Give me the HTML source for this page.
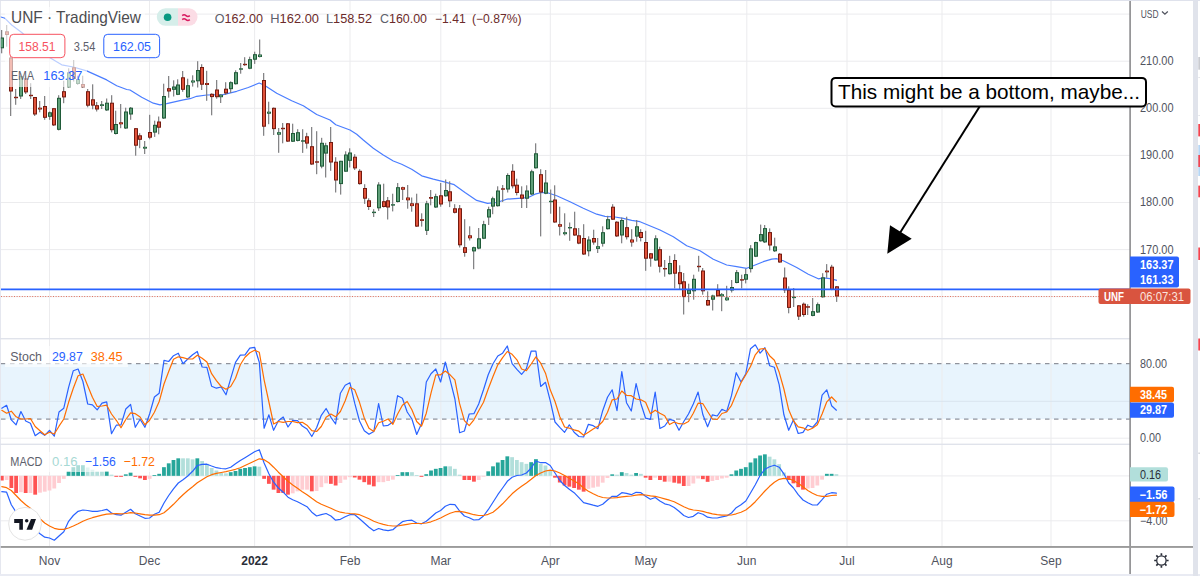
<!DOCTYPE html><html><head><meta charset="utf-8"><style>html,body{margin:0;padding:0;background:#fff;width:1200px;height:576px;overflow:hidden}</style></head><body><svg width="1200" height="576" viewBox="0 0 1200 576" style="position:absolute;left:0;top:0;font-family:'Liberation Sans',sans-serif">
<rect width="1200" height="576" fill="#fff"/>
<rect x="1" y="363.7" width="1129" height="55.4" fill="#e8f4fd"/>
<rect x="49.0" y="1" width="1" height="545" fill="#ececee"/>
<rect x="149.0" y="1" width="1" height="545" fill="#ececee"/>
<rect x="254.1" y="1" width="1" height="545" fill="#ececee"/>
<rect x="349.5" y="1" width="1" height="545" fill="#ececee"/>
<rect x="440.3" y="1" width="1" height="545" fill="#ececee"/>
<rect x="549.8" y="1" width="1" height="545" fill="#ececee"/>
<rect x="645.3" y="1" width="1" height="545" fill="#ececee"/>
<rect x="746.3" y="1" width="1" height="545" fill="#ececee"/>
<rect x="846.5" y="1" width="1" height="545" fill="#ececee"/>
<rect x="941.5" y="1" width="1" height="545" fill="#ececee"/>
<rect x="1050.5" y="1" width="1" height="545" fill="#ececee"/>
<rect x="1" y="13.6" width="1129" height="1" fill="#ececee"/>
<rect x="1" y="60.7" width="1129" height="1" fill="#ececee"/>
<rect x="1" y="107.8" width="1129" height="1" fill="#ececee"/>
<rect x="1" y="154.9" width="1129" height="1" fill="#ececee"/>
<rect x="1" y="202.0" width="1129" height="1" fill="#ececee"/>
<rect x="1" y="249.1" width="1129" height="1" fill="#ececee"/>
<rect x="1" y="296.2" width="1129" height="1" fill="#ececee"/>
<rect x="1" y="400.8" width="1129" height="1" fill="#d9e4ee"/>
<rect x="1" y="437.7" width="1129" height="1" fill="#ececee"/>
<rect x="1" y="475.4" width="1129" height="1" fill="#ececee"/>
<rect x="1" y="520.3" width="1129" height="1" fill="#ececee"/>
<rect x="0" y="338" width="1193" height="1.4" fill="#e0e3eb"/>
<rect x="0" y="443.6" width="1193" height="1.4" fill="#e0e3eb"/>
<line x1="1" x2="1130" y1="363.7" y2="363.7" stroke="#787b86" stroke-width="1" stroke-dasharray="4.5,4.5"/>
<line x1="1" x2="1130" y1="419.1" y2="419.1" stroke="#787b86" stroke-width="1" stroke-dasharray="4.5,4.5"/>
<rect x="-0.09" y="475.83" width="3.8" height="4.67" fill="#ff5252"/>
<rect x="4.68" y="475.83" width="3.8" height="4.17" fill="#ffcdd2"/>
<rect x="9.45" y="475.83" width="3.8" height="12.17" fill="#ff5252"/>
<rect x="14.22" y="475.83" width="3.8" height="17.17" fill="#ff5252"/>
<rect x="18.99" y="475.83" width="3.8" height="16.33" fill="#ffcdd2"/>
<rect x="23.76" y="475.83" width="3.8" height="17.17" fill="#ff5252"/>
<rect x="28.52" y="475.83" width="3.8" height="17.17" fill="#ffcdd2"/>
<rect x="33.29" y="475.83" width="3.8" height="18.83" fill="#ff5252"/>
<rect x="38.06" y="475.83" width="3.8" height="16.83" fill="#ffcdd2"/>
<rect x="42.83" y="475.83" width="3.8" height="15.83" fill="#ffcdd2"/>
<rect x="47.60" y="475.83" width="3.8" height="14.67" fill="#ffcdd2"/>
<rect x="52.37" y="475.83" width="3.8" height="12.67" fill="#ffcdd2"/>
<rect x="57.14" y="475.83" width="3.8" height="7.17" fill="#ffcdd2"/>
<rect x="61.91" y="475.83" width="3.8" height="3.00" fill="#ffcdd2"/>
<rect x="66.68" y="471.33" width="3.8" height="4.50" fill="#26a69a"/>
<rect x="71.44" y="467.17" width="3.8" height="8.67" fill="#26a69a"/>
<rect x="76.21" y="465.17" width="3.8" height="10.67" fill="#26a69a"/>
<rect x="80.98" y="465.17" width="3.8" height="10.67" fill="#26a69a"/>
<rect x="85.75" y="467.50" width="3.8" height="8.33" fill="#b2dfdb"/>
<rect x="90.52" y="469.67" width="3.8" height="6.17" fill="#b2dfdb"/>
<rect x="95.29" y="471.33" width="3.8" height="4.50" fill="#b2dfdb"/>
<rect x="100.06" y="471.33" width="3.8" height="4.50" fill="#b2dfdb"/>
<rect x="104.83" y="471.00" width="3.8" height="4.83" fill="#26a69a"/>
<rect x="109.60" y="474.67" width="3.8" height="1.17" fill="#b2dfdb"/>
<rect x="114.37" y="475.83" width="3.8" height="1.00" fill="#ff5252"/>
<rect x="119.13" y="475.83" width="3.8" height="1.00" fill="#ff5252"/>
<rect x="123.90" y="474.33" width="3.8" height="1.50" fill="#26a69a"/>
<rect x="128.67" y="472.67" width="3.8" height="3.17" fill="#26a69a"/>
<rect x="133.44" y="475.83" width="3.8" height="1.00" fill="#ff5252"/>
<rect x="138.21" y="475.83" width="3.8" height="2.50" fill="#ff5252"/>
<rect x="142.98" y="475.83" width="3.8" height="4.17" fill="#ff5252"/>
<rect x="147.75" y="475.83" width="3.8" height="3.00" fill="#ffcdd2"/>
<rect x="152.52" y="475.00" width="3.8" height="0.83" fill="#26a69a"/>
<rect x="157.29" y="473.83" width="3.8" height="2.00" fill="#26a69a"/>
<rect x="162.06" y="467.17" width="3.8" height="8.67" fill="#26a69a"/>
<rect x="166.83" y="463.33" width="3.8" height="12.50" fill="#26a69a"/>
<rect x="171.59" y="460.00" width="3.8" height="15.83" fill="#26a69a"/>
<rect x="176.36" y="458.33" width="3.8" height="17.50" fill="#26a69a"/>
<rect x="181.13" y="458.33" width="3.8" height="17.50" fill="#b2dfdb"/>
<rect x="185.90" y="458.33" width="3.8" height="17.50" fill="#b2dfdb"/>
<rect x="190.67" y="459.33" width="3.8" height="16.50" fill="#b2dfdb"/>
<rect x="195.44" y="458.33" width="3.8" height="17.50" fill="#26a69a"/>
<rect x="200.21" y="461.00" width="3.8" height="14.83" fill="#b2dfdb"/>
<rect x="204.98" y="463.83" width="3.8" height="12.00" fill="#b2dfdb"/>
<rect x="209.75" y="468.00" width="3.8" height="7.83" fill="#b2dfdb"/>
<rect x="214.51" y="470.50" width="3.8" height="5.33" fill="#b2dfdb"/>
<rect x="219.28" y="473.00" width="3.8" height="2.83" fill="#b2dfdb"/>
<rect x="224.05" y="473.33" width="3.8" height="2.50" fill="#b2dfdb"/>
<rect x="228.82" y="472.17" width="3.8" height="3.67" fill="#26a69a"/>
<rect x="233.59" y="471.00" width="3.8" height="4.83" fill="#26a69a"/>
<rect x="238.36" y="468.83" width="3.8" height="7.00" fill="#26a69a"/>
<rect x="243.13" y="468.00" width="3.8" height="7.83" fill="#26a69a"/>
<rect x="247.90" y="467.17" width="3.8" height="8.67" fill="#26a69a"/>
<rect x="252.67" y="466.33" width="3.8" height="9.50" fill="#26a69a"/>
<rect x="257.44" y="466.67" width="3.8" height="9.17" fill="#b2dfdb"/>
<rect x="262.21" y="475.83" width="3.8" height="3.00" fill="#ff5252"/>
<rect x="266.97" y="475.83" width="3.8" height="8.00" fill="#ff5252"/>
<rect x="271.74" y="475.83" width="3.8" height="13.83" fill="#ff5252"/>
<rect x="276.51" y="475.83" width="3.8" height="17.17" fill="#ff5252"/>
<rect x="281.28" y="475.83" width="3.8" height="17.17" fill="#ff5252"/>
<rect x="286.05" y="475.83" width="3.8" height="18.83" fill="#ff5252"/>
<rect x="290.82" y="475.83" width="3.8" height="17.50" fill="#ffcdd2"/>
<rect x="295.59" y="475.83" width="3.8" height="15.50" fill="#ffcdd2"/>
<rect x="300.36" y="475.83" width="3.8" height="13.83" fill="#ffcdd2"/>
<rect x="305.13" y="475.83" width="3.8" height="13.83" fill="#ffcdd2"/>
<rect x="309.90" y="475.83" width="3.8" height="15.50" fill="#ff5252"/>
<rect x="314.66" y="475.83" width="3.8" height="15.17" fill="#ffcdd2"/>
<rect x="319.43" y="475.83" width="3.8" height="11.33" fill="#ffcdd2"/>
<rect x="324.20" y="475.83" width="3.8" height="7.50" fill="#ffcdd2"/>
<rect x="328.97" y="475.83" width="3.8" height="8.00" fill="#ff5252"/>
<rect x="333.74" y="475.83" width="3.8" height="9.67" fill="#ff5252"/>
<rect x="338.51" y="475.83" width="3.8" height="7.17" fill="#ffcdd2"/>
<rect x="343.28" y="475.83" width="3.8" height="3.83" fill="#ffcdd2"/>
<rect x="348.05" y="475.83" width="3.8" height="1.33" fill="#ffcdd2"/>
<rect x="352.82" y="475.83" width="3.8" height="1.67" fill="#ff5252"/>
<rect x="357.59" y="475.83" width="3.8" height="3.83" fill="#ff5252"/>
<rect x="362.35" y="475.83" width="3.8" height="6.33" fill="#ff5252"/>
<rect x="367.12" y="475.83" width="3.8" height="8.83" fill="#ff5252"/>
<rect x="371.89" y="475.83" width="3.8" height="10.50" fill="#ff5252"/>
<rect x="376.66" y="475.83" width="3.8" height="6.33" fill="#ffcdd2"/>
<rect x="381.43" y="475.83" width="3.8" height="6.33" fill="#ffcdd2"/>
<rect x="386.20" y="475.83" width="3.8" height="5.17" fill="#ffcdd2"/>
<rect x="390.97" y="475.83" width="3.8" height="3.83" fill="#ffcdd2"/>
<rect x="395.74" y="475.00" width="3.8" height="0.83" fill="#26a69a"/>
<rect x="400.51" y="472.17" width="3.8" height="3.67" fill="#26a69a"/>
<rect x="405.28" y="472.17" width="3.8" height="3.67" fill="#26a69a"/>
<rect x="410.04" y="472.17" width="3.8" height="3.67" fill="#b2dfdb"/>
<rect x="414.81" y="475.03" width="3.8" height="0.80" fill="#b2dfdb"/>
<rect x="419.58" y="475.83" width="3.8" height="1.00" fill="#ff5252"/>
<rect x="424.35" y="474.17" width="3.8" height="1.67" fill="#26a69a"/>
<rect x="429.12" y="470.50" width="3.8" height="5.33" fill="#26a69a"/>
<rect x="433.89" y="468.83" width="3.8" height="7.00" fill="#26a69a"/>
<rect x="438.66" y="468.00" width="3.8" height="7.83" fill="#26a69a"/>
<rect x="443.43" y="466.33" width="3.8" height="9.50" fill="#26a69a"/>
<rect x="448.20" y="466.33" width="3.8" height="9.50" fill="#b2dfdb"/>
<rect x="452.97" y="468.83" width="3.8" height="7.00" fill="#b2dfdb"/>
<rect x="457.73" y="474.67" width="3.8" height="1.17" fill="#b2dfdb"/>
<rect x="462.50" y="475.83" width="3.8" height="4.17" fill="#ff5252"/>
<rect x="467.27" y="475.83" width="3.8" height="4.17" fill="#ff5252"/>
<rect x="472.04" y="475.83" width="3.8" height="5.83" fill="#ff5252"/>
<rect x="476.81" y="475.83" width="3.8" height="4.17" fill="#ffcdd2"/>
<rect x="481.58" y="475.83" width="3.8" height="0.83" fill="#ffcdd2"/>
<rect x="486.35" y="471.33" width="3.8" height="4.50" fill="#26a69a"/>
<rect x="491.12" y="466.33" width="3.8" height="9.50" fill="#26a69a"/>
<rect x="495.89" y="462.50" width="3.8" height="13.33" fill="#26a69a"/>
<rect x="500.66" y="460.00" width="3.8" height="15.83" fill="#26a69a"/>
<rect x="505.42" y="456.33" width="3.8" height="19.50" fill="#26a69a"/>
<rect x="510.19" y="457.17" width="3.8" height="18.67" fill="#b2dfdb"/>
<rect x="514.96" y="460.00" width="3.8" height="15.83" fill="#b2dfdb"/>
<rect x="519.73" y="462.17" width="3.8" height="13.67" fill="#b2dfdb"/>
<rect x="524.50" y="463.83" width="3.8" height="12.00" fill="#b2dfdb"/>
<rect x="529.27" y="462.17" width="3.8" height="13.67" fill="#26a69a"/>
<rect x="534.04" y="459.17" width="3.8" height="16.67" fill="#26a69a"/>
<rect x="538.81" y="463.83" width="3.8" height="12.00" fill="#b2dfdb"/>
<rect x="543.58" y="465.50" width="3.8" height="10.33" fill="#b2dfdb"/>
<rect x="548.35" y="470.50" width="3.8" height="5.33" fill="#b2dfdb"/>
<rect x="553.11" y="475.83" width="3.8" height="1.83" fill="#ff5252"/>
<rect x="557.88" y="475.83" width="3.8" height="6.67" fill="#ff5252"/>
<rect x="562.65" y="475.83" width="3.8" height="9.67" fill="#ff5252"/>
<rect x="567.42" y="475.83" width="3.8" height="10.83" fill="#ff5252"/>
<rect x="572.19" y="475.83" width="3.8" height="12.17" fill="#ff5252"/>
<rect x="576.96" y="475.83" width="3.8" height="13.83" fill="#ff5252"/>
<rect x="581.73" y="475.83" width="3.8" height="15.83" fill="#ff5252"/>
<rect x="586.50" y="475.83" width="3.8" height="13.00" fill="#ffcdd2"/>
<rect x="591.27" y="475.83" width="3.8" height="11.83" fill="#ffcdd2"/>
<rect x="596.04" y="475.83" width="3.8" height="10.83" fill="#ffcdd2"/>
<rect x="600.80" y="475.83" width="3.8" height="6.83" fill="#ffcdd2"/>
<rect x="605.57" y="475.83" width="3.8" height="2.17" fill="#ffcdd2"/>
<rect x="610.34" y="474.33" width="3.8" height="1.50" fill="#26a69a"/>
<rect x="615.11" y="474.67" width="3.8" height="1.17" fill="#b2dfdb"/>
<rect x="619.88" y="472.17" width="3.8" height="3.67" fill="#26a69a"/>
<rect x="624.65" y="473.00" width="3.8" height="2.83" fill="#b2dfdb"/>
<rect x="629.42" y="474.67" width="3.8" height="1.17" fill="#b2dfdb"/>
<rect x="634.19" y="473.00" width="3.8" height="2.83" fill="#26a69a"/>
<rect x="638.96" y="473.83" width="3.8" height="2.00" fill="#b2dfdb"/>
<rect x="643.73" y="475.83" width="3.8" height="1.83" fill="#ff5252"/>
<rect x="648.49" y="475.83" width="3.8" height="4.17" fill="#ff5252"/>
<rect x="653.26" y="475.83" width="3.8" height="1.83" fill="#ffcdd2"/>
<rect x="658.03" y="475.83" width="3.8" height="4.17" fill="#ff5252"/>
<rect x="662.80" y="475.83" width="3.8" height="5.83" fill="#ff5252"/>
<rect x="667.57" y="475.83" width="3.8" height="5.83" fill="#ffcdd2"/>
<rect x="672.34" y="475.83" width="3.8" height="6.83" fill="#ff5252"/>
<rect x="677.11" y="475.83" width="3.8" height="7.67" fill="#ff5252"/>
<rect x="681.88" y="475.83" width="3.8" height="10.17" fill="#ff5252"/>
<rect x="686.65" y="475.83" width="3.8" height="10.17" fill="#ffcdd2"/>
<rect x="691.42" y="475.83" width="3.8" height="7.67" fill="#ffcdd2"/>
<rect x="696.18" y="475.83" width="3.8" height="2.67" fill="#ffcdd2"/>
<rect x="700.95" y="475.83" width="3.8" height="3.33" fill="#ff5252"/>
<rect x="705.72" y="475.83" width="3.8" height="6.00" fill="#ff5252"/>
<rect x="710.49" y="475.83" width="3.8" height="5.17" fill="#ffcdd2"/>
<rect x="715.26" y="475.83" width="3.8" height="4.17" fill="#ffcdd2"/>
<rect x="720.03" y="475.83" width="3.8" height="2.67" fill="#ffcdd2"/>
<rect x="724.80" y="475.83" width="3.8" height="1.83" fill="#ffcdd2"/>
<rect x="729.57" y="474.33" width="3.8" height="1.50" fill="#26a69a"/>
<rect x="734.34" y="470.50" width="3.8" height="5.33" fill="#26a69a"/>
<rect x="739.11" y="468.83" width="3.8" height="7.00" fill="#26a69a"/>
<rect x="743.87" y="467.17" width="3.8" height="8.67" fill="#26a69a"/>
<rect x="748.64" y="462.50" width="3.8" height="13.33" fill="#26a69a"/>
<rect x="753.41" y="458.33" width="3.8" height="17.50" fill="#26a69a"/>
<rect x="758.18" y="455.50" width="3.8" height="20.33" fill="#26a69a"/>
<rect x="762.95" y="454.33" width="3.8" height="21.50" fill="#26a69a"/>
<rect x="767.72" y="456.67" width="3.8" height="19.17" fill="#b2dfdb"/>
<rect x="772.49" y="459.33" width="3.8" height="16.50" fill="#b2dfdb"/>
<rect x="777.26" y="464.17" width="3.8" height="11.67" fill="#b2dfdb"/>
<rect x="782.03" y="472.50" width="3.8" height="3.33" fill="#b2dfdb"/>
<rect x="786.80" y="475.83" width="3.8" height="4.17" fill="#ff5252"/>
<rect x="791.56" y="475.83" width="3.8" height="7.50" fill="#ff5252"/>
<rect x="796.33" y="475.83" width="3.8" height="11.33" fill="#ff5252"/>
<rect x="801.10" y="475.83" width="3.8" height="13.83" fill="#ff5252"/>
<rect x="805.87" y="475.83" width="3.8" height="12.67" fill="#ffcdd2"/>
<rect x="810.64" y="475.83" width="3.8" height="12.17" fill="#ffcdd2"/>
<rect x="815.41" y="475.83" width="3.8" height="9.67" fill="#ffcdd2"/>
<rect x="820.18" y="475.83" width="3.8" height="3.83" fill="#ffcdd2"/>
<rect x="824.95" y="473.83" width="3.8" height="2.00" fill="#26a69a"/>
<rect x="829.72" y="473.83" width="3.8" height="2.00" fill="#26a69a"/>
<rect x="834.49" y="474.17" width="3.8" height="1.67" fill="#b2dfdb"/>
<polyline points="1.8,491.7 6.6,492.2 11.3,504.7 16.1,512.2 20.9,516.7 25.7,521.0 30.4,525.5 35.2,530.0 40.0,533.8 44.7,537.2 49.5,538.0 54.3,540.2 59.0,536.0 63.8,531.8 68.6,521.3 73.3,515.5 78.1,511.3 82.9,510.0 87.7,510.5 92.4,511.3 97.2,511.3 102.0,510.5 106.7,509.3 111.5,513.0 116.3,514.7 121.0,515.2 125.8,512.2 130.6,509.3 135.3,513.8 140.1,516.0 144.9,518.3 149.6,518.0 154.4,514.3 159.2,512.2 164.0,503.0 168.7,495.5 173.5,488.8 178.3,483.0 183.0,479.7 187.8,476.0 192.6,471.3 197.3,465.5 202.1,464.3 206.9,464.2 211.6,466.0 216.4,467.7 221.2,468.5 226.0,468.8 230.7,467.2 235.5,463.8 240.3,460.5 245.0,457.7 249.8,454.7 254.6,451.7 259.3,449.7 264.1,463.0 268.9,473.8 273.6,482.2 278.4,488.0 283.2,492.2 288.0,497.2 292.7,499.7 297.5,501.7 302.3,504.3 307.0,506.7 311.8,512.2 316.6,516.0 321.3,514.7 326.1,513.5 330.9,516.0 335.6,520.2 340.4,519.3 345.2,516.8 349.9,514.7 354.7,514.7 359.5,518.8 364.3,523.0 369.0,527.2 373.8,530.8 378.6,528.5 383.3,529.8 388.1,530.7 392.9,529.7 397.6,525.5 402.4,521.7 407.2,520.5 411.9,520.2 416.7,523.0 421.5,523.8 426.3,521.3 431.0,517.2 435.8,513.0 440.6,510.5 445.3,506.3 450.1,504.3 454.9,504.7 459.6,511.0 464.4,516.0 469.2,517.7 473.9,520.0 478.7,519.7 483.5,516.0 488.2,509.7 493.0,502.2 497.8,494.7 502.6,488.0 507.3,481.3 512.1,477.2 516.9,475.5 521.6,475.0 526.4,473.0 531.2,468.0 535.9,461.0 540.7,462.7 545.5,462.5 550.2,465.5 555.0,473.0 559.8,480.5 564.6,485.5 569.3,489.3 574.1,492.7 578.9,497.7 583.6,502.7 588.4,503.8 593.2,505.2 597.9,506.3 602.7,504.3 607.5,500.0 612.2,496.3 617.0,496.3 621.8,492.7 626.5,493.3 631.3,494.7 636.1,492.3 640.9,492.7 645.6,496.3 650.4,499.3 655.2,497.5 659.9,501.0 664.7,503.8 669.5,505.0 674.2,507.5 679.0,511.3 683.8,515.5 688.5,517.5 693.3,516.3 698.1,512.7 702.9,514.2 707.6,517.2 712.4,518.0 717.2,518.0 721.9,516.8 726.7,516.0 731.5,513.0 736.2,507.7 741.0,504.7 745.8,501.0 750.5,493.0 755.3,484.7 760.1,475.5 764.9,469.2 769.6,466.8 774.4,465.2 779.2,467.2 783.9,473.8 788.7,483.0 793.5,488.0 798.2,494.7 803.0,500.0 807.8,502.7 812.5,505.0 817.3,505.0 822.1,499.7 826.8,494.2 831.6,492.7 836.4,493.2" fill="none" stroke="#2962ff" stroke-width="1.2" stroke-linejoin="round" stroke-linecap="round"/>
<polyline points="1.8,486.7 6.6,487.7 11.3,490.5 16.1,495.5 20.9,500.5 25.7,504.7 30.4,508.3 35.2,513.3 40.0,518.8 44.7,523.0 49.5,526.0 54.3,528.3 59.0,529.3 63.8,529.3 68.6,528.0 73.3,526.0 78.1,523.8 82.9,521.3 87.7,519.3 92.4,517.7 97.2,516.3 102.0,515.2 106.7,514.2 111.5,513.8 116.3,513.5 121.0,513.8 125.8,513.5 130.6,512.7 135.3,513.0 140.1,513.8 144.9,514.7 149.6,515.2 154.4,515.2 159.2,514.7 164.0,512.7 168.7,508.8 173.5,504.3 178.3,499.3 183.0,494.7 187.8,490.5 192.6,486.7 197.3,482.7 202.1,479.7 206.9,476.7 211.6,474.7 216.4,473.3 221.2,472.5 226.0,471.7 230.7,470.5 235.5,469.3 240.3,467.7 245.0,465.5 249.8,463.3 254.6,461.0 259.3,458.8 264.1,459.7 268.9,462.7 273.6,467.2 278.4,472.2 283.2,476.7 288.0,481.3 292.7,485.0 297.5,488.3 302.3,491.7 307.0,494.7 311.8,498.3 316.6,501.7 321.3,504.3 326.1,506.3 330.9,508.3 335.6,510.5 340.4,512.2 345.2,513.0 349.9,513.5 354.7,513.8 359.5,514.7 364.3,516.7 369.0,518.8 373.8,521.3 378.6,523.0 383.3,524.3 388.1,525.5 392.9,526.0 397.6,526.0 402.4,525.2 407.2,524.3 411.9,523.5 416.7,523.5 421.5,523.5 426.3,523.0 431.0,521.8 435.8,520.0 440.6,518.0 445.3,515.5 450.1,513.3 454.9,511.7 459.6,511.3 464.4,512.2 469.2,513.3 473.9,514.7 478.7,515.5 483.5,515.5 488.2,514.3 493.0,512.2 497.8,508.3 502.6,503.8 507.3,498.8 512.1,493.8 516.9,489.7 521.6,486.3 526.4,483.0 531.2,479.3 535.9,475.5 540.7,473.0 545.5,471.0 550.2,470.2 555.0,471.0 559.8,473.0 564.6,475.5 569.3,478.3 574.1,481.0 578.9,483.8 583.6,488.0 588.4,491.3 593.2,493.8 597.9,496.0 602.7,497.5 607.5,498.0 612.2,498.0 617.0,497.7 621.8,496.8 626.5,496.3 631.3,496.0 636.1,495.2 640.9,494.7 645.6,495.0 650.4,495.8 655.2,496.3 659.9,497.5 664.7,498.8 669.5,500.2 674.2,501.8 679.0,504.3 683.8,506.8 688.5,508.8 693.3,510.0 698.1,510.5 702.9,511.3 707.6,512.7 712.4,513.8 717.2,514.7 721.9,515.2 726.7,515.2 731.5,515.0 736.2,513.8 741.0,512.2 745.8,510.0 750.5,506.3 755.3,501.7 760.1,496.3 764.9,491.0 769.6,486.3 774.4,482.2 779.2,479.3 783.9,478.3 788.7,478.8 793.5,480.5 798.2,483.3 803.0,486.7 807.8,490.5 812.5,493.3 817.3,495.5 822.1,496.3 826.8,496.3 831.6,495.5 836.4,495.2" fill="none" stroke="#ff6d00" stroke-width="1.2" stroke-linejoin="round" stroke-linecap="round"/>
<polyline points="1.8,408.2 6.6,405.3 11.3,419.8 16.1,424.8 20.9,411.5 25.7,421.0 30.4,423.2 35.2,435.7 40.0,432.3 44.7,435.3 49.5,430.3 54.3,436.2 59.0,412.0 63.8,408.2 68.6,387.3 73.3,370.7 78.1,369.0 82.9,381.5 87.7,404.0 92.4,404.8 97.2,409.8 102.0,403.2 106.7,401.8 111.5,433.7 116.3,425.2 121.0,424.8 125.8,409.0 130.6,404.5 135.3,427.3 140.1,419.3 144.9,427.3 149.6,414.0 154.4,397.0 159.2,393.2 164.0,360.3 168.7,361.5 173.5,355.7 178.3,353.2 183.0,363.7 187.8,359.0 192.6,354.8 197.3,351.5 202.1,367.0 206.9,367.3 211.6,386.2 216.4,388.2 221.2,387.0 226.0,394.8 230.7,378.7 235.5,362.3 240.3,355.2 245.0,354.8 249.8,348.2 254.6,347.3 259.3,362.3 264.1,428.2 268.9,414.8 273.6,430.3 278.4,420.7 283.2,417.0 288.0,427.0 292.7,420.3 297.5,420.7 302.3,426.0 307.0,429.0 311.8,436.5 316.6,427.7 321.3,415.3 326.1,408.5 330.9,417.3 335.6,424.0 340.4,393.2 345.2,385.3 349.9,382.7 354.7,403.2 359.5,421.0 364.3,430.7 369.0,434.3 373.8,431.5 378.6,403.7 383.3,426.0 388.1,425.3 392.9,422.0 397.6,395.7 402.4,398.2 407.2,412.0 411.9,419.0 416.7,434.5 421.5,423.7 426.3,382.0 431.0,373.7 435.8,369.0 440.6,382.0 445.3,362.0 450.1,379.8 454.9,399.0 459.6,432.7 464.4,431.0 469.2,414.0 473.9,413.7 478.7,404.0 483.5,389.8 488.2,374.8 493.0,363.7 497.8,356.0 502.6,353.2 507.3,346.0 512.1,363.7 516.9,369.3 521.6,374.3 526.4,368.7 531.2,351.0 535.9,351.2 540.7,386.5 545.5,382.3 550.2,400.7 555.0,422.0 559.8,427.3 564.6,432.3 569.3,424.8 574.1,432.3 578.9,436.5 583.6,437.0 588.4,424.3 593.2,425.7 597.9,428.7 602.7,410.7 607.5,397.3 612.2,389.8 617.0,410.7 621.8,371.5 626.5,402.7 631.3,411.0 636.1,383.7 640.9,403.7 645.6,418.2 650.4,419.3 655.2,392.0 659.9,428.5 664.7,426.0 669.5,419.3 674.2,420.7 679.0,430.3 683.8,421.5 688.5,414.0 693.3,404.0 698.1,392.0 702.9,414.8 707.6,426.8 712.4,414.8 717.2,416.0 721.9,409.3 726.7,411.5 731.5,395.7 736.2,372.7 741.0,382.0 745.8,373.7 750.5,348.7 755.3,344.8 760.1,353.2 764.9,347.7 769.6,365.7 774.4,367.3 779.2,384.8 783.9,414.8 788.7,430.3 793.5,419.8 798.2,433.5 803.0,432.3 807.8,425.2 812.5,427.3 817.3,422.0 822.1,395.2 826.8,389.8 831.6,405.7 836.4,410.2" fill="none" stroke="#2962ff" stroke-width="1.2" stroke-linejoin="round" stroke-linecap="round"/>
<polyline points="1.8,410.3 6.6,413.2 11.3,411.2 16.1,416.8 20.9,419.0 25.7,419.0 30.4,418.5 35.2,426.5 40.0,430.7 44.7,434.8 49.5,432.3 54.3,434.0 59.0,426.2 63.8,419.0 68.6,402.3 73.3,388.2 78.1,375.7 82.9,374.0 87.7,385.7 92.4,397.3 97.2,406.5 102.0,406.0 106.7,405.2 111.5,414.0 116.3,420.3 121.0,427.8 125.8,419.5 130.6,412.8 135.3,413.7 140.1,417.0 144.9,424.8 149.6,420.2 154.4,412.3 159.2,401.5 164.0,384.0 168.7,371.5 173.5,359.3 178.3,356.8 183.0,357.7 187.8,359.0 192.6,359.0 197.3,355.3 202.1,358.2 206.9,362.0 211.6,373.7 216.4,380.7 221.2,386.5 226.0,389.3 230.7,386.5 235.5,378.2 240.3,364.8 245.0,357.3 249.8,352.7 254.6,350.3 259.3,352.3 264.1,379.8 268.9,402.0 273.6,424.0 278.4,421.5 283.2,422.3 288.0,421.5 292.7,421.5 297.5,422.7 302.3,422.3 307.0,425.2 311.8,430.7 316.6,431.5 321.3,426.5 326.1,417.3 330.9,414.0 335.6,416.8 340.4,411.5 345.2,400.7 349.9,387.3 354.7,389.8 359.5,402.3 364.3,418.2 369.0,428.2 373.8,431.5 378.6,422.7 383.3,421.2 388.1,419.0 392.9,424.3 397.6,414.0 402.4,405.3 407.2,401.5 411.9,409.8 416.7,421.5 421.5,426.2 426.3,413.2 431.0,393.2 435.8,374.8 440.6,374.8 445.3,371.0 450.1,374.8 454.9,379.8 459.6,403.7 464.4,420.7 469.2,425.7 473.9,419.8 478.7,410.7 483.5,402.3 488.2,389.0 493.0,376.5 497.8,364.8 502.6,357.7 507.3,351.5 512.1,354.3 516.9,359.8 521.6,369.0 526.4,370.7 531.2,364.0 535.9,356.8 540.7,363.2 545.5,373.2 550.2,389.8 555.0,401.5 559.8,416.8 564.6,427.0 569.3,428.2 574.1,429.8 578.9,431.2 583.6,435.3 588.4,432.3 593.2,429.0 597.9,426.2 602.7,421.5 607.5,412.3 612.2,399.8 617.0,399.0 621.8,391.0 626.5,395.3 631.3,395.7 636.1,399.0 640.9,399.8 645.6,402.3 650.4,413.7 655.2,410.2 659.9,413.2 664.7,415.7 669.5,424.5 674.2,422.0 679.0,423.7 683.8,424.0 688.5,421.5 693.3,413.2 698.1,403.2 702.9,403.7 707.6,411.5 712.4,419.0 717.2,419.5 721.9,413.5 726.7,412.0 731.5,405.3 736.2,394.0 741.0,382.7 745.8,374.8 750.5,366.5 755.3,354.8 760.1,349.0 764.9,348.5 769.6,355.7 774.4,360.2 779.2,372.3 783.9,389.0 788.7,409.8 793.5,421.0 798.2,426.8 803.0,427.8 807.8,430.2 812.5,428.2 817.3,424.8 822.1,414.0 826.8,401.8 831.6,397.0 836.4,401.8" fill="none" stroke="#ff6d00" stroke-width="1.2" stroke-linejoin="round" stroke-linecap="round"/>
<polyline points="0.0,16.7 5.0,18.3 11.7,25.0 21.7,32.5 50.8,58.3 61.7,64.8 73.3,67.0 86.7,70.9 106.7,79.9 116.7,85.7 126.7,89.5 130.0,90.0 141.7,97.3 153.3,103.2 160.0,104.8 166.7,103.7 183.3,99.8 190.0,98.7 196.7,96.3 206.7,95.0 223.3,94.7 236.7,91.3 248.3,87.5 259.2,83.0 263.3,84.7 266.7,86.7 276.7,93.3 291.7,100.8 303.3,105.8 316.7,114.5 330.0,120.0 335.8,124.7 350.0,130.0 356.7,134.2 363.3,140.0 373.3,148.3 383.3,155.0 393.3,161.0 401.7,164.2 411.7,169.2 421.7,175.8 433.3,179.2 443.3,181.7 454.2,184.7 465.0,192.5 476.7,200.4 487.5,203.3 496.7,202.5 506.7,199.2 518.3,198.3 528.3,197.5 535.0,194.2 541.7,192.5 548.3,193.0 556.7,195.8 570.0,201.7 583.3,208.3 596.7,214.2 605.0,216.3 615.0,217.0 623.3,218.3 631.7,220.3 640.0,221.7 660.0,230.0 673.3,236.7 686.7,245.8 700.0,250.8 713.3,259.2 726.7,265.0 736.7,266.7 746.7,268.3 753.3,265.8 763.3,261.7 771.7,259.2 776.7,258.7 783.3,260.8 796.7,267.5 808.3,274.2 818.3,278.8 823.3,277.8 830.0,278.7 837.0,280.3" fill="none" stroke="#4a7dff" stroke-width="1.2" stroke-linejoin="round"/>
<rect x="1.05" y="30.0" width="1.2" height="23.3" fill="#7e7e81"/>
<rect x="0.50" y="38.0" width="3" height="9.8" fill="#5f9f78" stroke="#1f5a38" stroke-width="1"/>
<rect x="6.05" y="25.0" width="1.2" height="21.7" fill="#7e7e81"/>
<rect x="5.50" y="31.8" width="3" height="2.7" fill="#e0523a" stroke="#741a0f" stroke-width="1"/>
<rect x="10.05" y="54.0" width="1.2" height="62.0" fill="#7e7e81"/>
<rect x="9.50" y="58.0" width="3" height="33.0" fill="#e0523a" stroke="#741a0f" stroke-width="1"/>
<rect x="15.05" y="89.0" width="1.2" height="15.8" fill="#7e7e81"/>
<rect x="14.00" y="96.8" width="4" height="1.4" fill="#741a0f"/>
<rect x="14.90" y="97.4" width="2.2" height="0.3" fill="#e0523a"/>
<rect x="20.05" y="73.2" width="1.2" height="25.8" fill="#7e7e81"/>
<rect x="19.50" y="76.5" width="3" height="19.5" fill="#5f9f78" stroke="#1f5a38" stroke-width="1"/>
<rect x="25.05" y="75.7" width="1.2" height="18.3" fill="#7e7e81"/>
<rect x="24.50" y="78.7" width="3" height="13.2" fill="#e0523a" stroke="#741a0f" stroke-width="1"/>
<rect x="30.05" y="83.2" width="1.2" height="15.8" fill="#7e7e81"/>
<rect x="29.00" y="94.8" width="4" height="1.4" fill="#741a0f"/>
<rect x="29.90" y="95.4" width="2.2" height="0.3" fill="#e0523a"/>
<rect x="34.05" y="97.0" width="1.2" height="19.0" fill="#7e7e81"/>
<rect x="33.50" y="97.5" width="3" height="16.5" fill="#e0523a" stroke="#741a0f" stroke-width="1"/>
<rect x="39.05" y="101.0" width="1.2" height="11.3" fill="#7e7e81"/>
<rect x="38.00" y="107.7" width="4" height="1.8" fill="#741a0f"/>
<rect x="38.90" y="108.2" width="2.2" height="0.7" fill="#e0523a"/>
<rect x="44.05" y="96.0" width="1.2" height="23.8" fill="#7e7e81"/>
<rect x="43.50" y="106.5" width="3" height="10.8" fill="#e0523a" stroke="#741a0f" stroke-width="1"/>
<rect x="49.05" y="111.5" width="1.2" height="8.3" fill="#7e7e81"/>
<rect x="48.50" y="112.8" width="3" height="3.5" fill="#5f9f78" stroke="#1f5a38" stroke-width="1"/>
<rect x="53.05" y="108.2" width="1.2" height="17.8" fill="#7e7e81"/>
<rect x="52.50" y="108.7" width="3" height="16.2" fill="#e0523a" stroke="#741a0f" stroke-width="1"/>
<rect x="58.05" y="95.2" width="1.2" height="35.2" fill="#7e7e81"/>
<rect x="57.50" y="98.3" width="3" height="31.0" fill="#5f9f78" stroke="#1f5a38" stroke-width="1"/>
<rect x="63.05" y="80.7" width="1.2" height="22.5" fill="#7e7e81"/>
<rect x="62.50" y="91.7" width="3" height="5.2" fill="#e0523a" stroke="#741a0f" stroke-width="1"/>
<rect x="68.05" y="68.3" width="1.2" height="19.3" fill="#7e7e81"/>
<rect x="67.50" y="72.8" width="3" height="14.0" fill="#5f9f78" stroke="#1f5a38" stroke-width="1"/>
<rect x="73.05" y="60.0" width="1.2" height="21.5" fill="#7e7e81"/>
<rect x="72.50" y="67.8" width="3" height="10.7" fill="#e0523a" stroke="#741a0f" stroke-width="1"/>
<rect x="77.05" y="75.7" width="1.2" height="9.2" fill="#7e7e81"/>
<rect x="76.50" y="79.5" width="3" height="4.0" fill="#5f9f78" stroke="#1f5a38" stroke-width="1"/>
<rect x="82.05" y="75.7" width="1.2" height="12.0" fill="#7e7e81"/>
<rect x="81.50" y="84.5" width="3" height="2.3" fill="#e0523a" stroke="#741a0f" stroke-width="1"/>
<rect x="87.05" y="89.0" width="1.2" height="18.3" fill="#7e7e81"/>
<rect x="86.50" y="91.7" width="3" height="13.5" fill="#e0523a" stroke="#741a0f" stroke-width="1"/>
<rect x="92.05" y="84.3" width="1.2" height="25.0" fill="#7e7e81"/>
<rect x="91.50" y="99.8" width="3" height="5.3" fill="#e0523a" stroke="#741a0f" stroke-width="1"/>
<rect x="96.05" y="102.0" width="1.2" height="9.5" fill="#7e7e81"/>
<rect x="95.50" y="105.7" width="3" height="3.3" fill="#e0523a" stroke="#741a0f" stroke-width="1"/>
<rect x="101.05" y="101.0" width="1.2" height="8.0" fill="#7e7e81"/>
<rect x="100.00" y="104.3" width="4" height="1.7" fill="#1f5a38"/>
<rect x="100.90" y="104.9" width="2.2" height="0.6" fill="#5f9f78"/>
<rect x="106.05" y="98.5" width="1.2" height="12.5" fill="#7e7e81"/>
<rect x="105.50" y="103.2" width="3" height="6.7" fill="#5f9f78" stroke="#1f5a38" stroke-width="1"/>
<rect x="111.05" y="95.2" width="1.2" height="37.2" fill="#7e7e81"/>
<rect x="110.50" y="103.2" width="3" height="26.5" fill="#e0523a" stroke="#741a0f" stroke-width="1"/>
<rect x="115.05" y="110.7" width="1.2" height="23.8" fill="#7e7e81"/>
<rect x="114.50" y="124.5" width="3" height="9.0" fill="#5f9f78" stroke="#1f5a38" stroke-width="1"/>
<rect x="120.05" y="104.0" width="1.2" height="24.2" fill="#7e7e81"/>
<rect x="119.00" y="122.3" width="4" height="2.0" fill="#741a0f"/>
<rect x="119.90" y="122.9" width="2.2" height="0.9" fill="#e0523a"/>
<rect x="125.05" y="107.7" width="1.2" height="21.3" fill="#7e7e81"/>
<rect x="124.50" y="112.0" width="3" height="16.0" fill="#5f9f78" stroke="#1f5a38" stroke-width="1"/>
<rect x="130.05" y="107.0" width="1.2" height="12.8" fill="#7e7e81"/>
<rect x="129.50" y="108.2" width="3" height="5.8" fill="#5f9f78" stroke="#1f5a38" stroke-width="1"/>
<rect x="135.05" y="128.2" width="1.2" height="27.5" fill="#7e7e81"/>
<rect x="134.50" y="128.7" width="3" height="16.5" fill="#e0523a" stroke="#741a0f" stroke-width="1"/>
<rect x="139.05" y="133.2" width="1.2" height="15.0" fill="#7e7e81"/>
<rect x="138.50" y="135.8" width="3" height="3.5" fill="#e0523a" stroke="#741a0f" stroke-width="1"/>
<rect x="144.05" y="141.0" width="1.2" height="13.0" fill="#7e7e81"/>
<rect x="143.00" y="146.8" width="4" height="1.8" fill="#1f5a38"/>
<rect x="143.90" y="147.4" width="2.2" height="0.7" fill="#5f9f78"/>
<rect x="149.05" y="114.8" width="1.2" height="24.5" fill="#7e7e81"/>
<rect x="148.50" y="132.5" width="3" height="4.7" fill="#e0523a" stroke="#741a0f" stroke-width="1"/>
<rect x="154.05" y="120.7" width="1.2" height="16.2" fill="#7e7e81"/>
<rect x="153.50" y="125.3" width="3" height="6.8" fill="#5f9f78" stroke="#1f5a38" stroke-width="1"/>
<rect x="158.05" y="116.5" width="1.2" height="17.8" fill="#7e7e81"/>
<rect x="157.50" y="122.0" width="3" height="5.2" fill="#e0523a" stroke="#741a0f" stroke-width="1"/>
<rect x="163.05" y="83.7" width="1.2" height="35.3" fill="#7e7e81"/>
<rect x="162.50" y="96.5" width="3" height="21.5" fill="#5f9f78" stroke="#1f5a38" stroke-width="1"/>
<rect x="168.05" y="76.0" width="1.2" height="21.7" fill="#7e7e81"/>
<rect x="167.50" y="88.7" width="3" height="2.3" fill="#e0523a" stroke="#741a0f" stroke-width="1"/>
<rect x="173.05" y="80.3" width="1.2" height="16.2" fill="#7e7e81"/>
<rect x="172.50" y="87.0" width="3" height="2.3" fill="#5f9f78" stroke="#1f5a38" stroke-width="1"/>
<rect x="177.05" y="79.3" width="1.2" height="15.8" fill="#7e7e81"/>
<rect x="176.50" y="85.0" width="3" height="9.3" fill="#5f9f78" stroke="#1f5a38" stroke-width="1"/>
<rect x="182.05" y="71.0" width="1.2" height="20.8" fill="#7e7e81"/>
<rect x="181.50" y="77.8" width="3" height="11.5" fill="#e0523a" stroke="#741a0f" stroke-width="1"/>
<rect x="187.05" y="78.7" width="1.2" height="19.2" fill="#7e7e81"/>
<rect x="186.50" y="85.7" width="3" height="11.2" fill="#5f9f78" stroke="#1f5a38" stroke-width="1"/>
<rect x="192.05" y="75.3" width="1.2" height="11.3" fill="#7e7e81"/>
<rect x="191.00" y="80.5" width="4" height="2.0" fill="#1f5a38"/>
<rect x="191.90" y="81.0" width="2.2" height="0.9" fill="#5f9f78"/>
<rect x="197.05" y="61.2" width="1.2" height="26.3" fill="#7e7e81"/>
<rect x="196.50" y="70.5" width="3" height="10.3" fill="#5f9f78" stroke="#1f5a38" stroke-width="1"/>
<rect x="201.05" y="64.2" width="1.2" height="25.8" fill="#7e7e81"/>
<rect x="200.50" y="67.5" width="3" height="16.7" fill="#e0523a" stroke="#741a0f" stroke-width="1"/>
<rect x="206.05" y="70.8" width="1.2" height="30.0" fill="#7e7e81"/>
<rect x="205.00" y="83.0" width="4" height="2.0" fill="#741a0f"/>
<rect x="205.90" y="83.5" width="2.2" height="0.9" fill="#e0523a"/>
<rect x="211.05" y="93.3" width="1.2" height="22.0" fill="#7e7e81"/>
<rect x="210.50" y="94.3" width="3" height="2.3" fill="#e0523a" stroke="#741a0f" stroke-width="1"/>
<rect x="216.05" y="80.0" width="1.2" height="18.7" fill="#7e7e81"/>
<rect x="215.50" y="90.0" width="3" height="6.7" fill="#e0523a" stroke="#741a0f" stroke-width="1"/>
<rect x="220.05" y="94.2" width="1.2" height="8.8" fill="#7e7e81"/>
<rect x="219.00" y="94.7" width="4" height="2.5" fill="#1f5a38"/>
<rect x="219.90" y="95.2" width="2.2" height="1.4" fill="#5f9f78"/>
<rect x="225.05" y="82.2" width="1.2" height="12.8" fill="#7e7e81"/>
<rect x="224.50" y="89.2" width="3" height="3.7" fill="#e0523a" stroke="#741a0f" stroke-width="1"/>
<rect x="230.05" y="81.3" width="1.2" height="11.7" fill="#7e7e81"/>
<rect x="229.50" y="82.7" width="3" height="6.0" fill="#5f9f78" stroke="#1f5a38" stroke-width="1"/>
<rect x="235.05" y="70.3" width="1.2" height="14.3" fill="#7e7e81"/>
<rect x="234.50" y="72.7" width="3" height="11.0" fill="#5f9f78" stroke="#1f5a38" stroke-width="1"/>
<rect x="240.05" y="63.0" width="1.2" height="10.7" fill="#7e7e81"/>
<rect x="239.00" y="68.3" width="4" height="1.4" fill="#1f5a38"/>
<rect x="239.90" y="68.9" width="2.2" height="0.3" fill="#5f9f78"/>
<rect x="244.05" y="57.2" width="1.2" height="8.7" fill="#7e7e81"/>
<rect x="243.00" y="63.8" width="4" height="1.4" fill="#741a0f"/>
<rect x="243.90" y="64.4" width="2.2" height="0.3" fill="#e0523a"/>
<rect x="249.05" y="56.7" width="1.2" height="12.5" fill="#7e7e81"/>
<rect x="248.50" y="59.7" width="3" height="8.5" fill="#5f9f78" stroke="#1f5a38" stroke-width="1"/>
<rect x="254.05" y="51.7" width="1.2" height="12.2" fill="#7e7e81"/>
<rect x="253.50" y="54.7" width="3" height="4.5" fill="#5f9f78" stroke="#1f5a38" stroke-width="1"/>
<rect x="259.05" y="39.5" width="1.2" height="18.0" fill="#7e7e81"/>
<rect x="258.00" y="54.5" width="4" height="2.5" fill="#1f5a38"/>
<rect x="258.90" y="55.0" width="2.2" height="1.4" fill="#5f9f78"/>
<rect x="263.05" y="73.0" width="1.2" height="62.8" fill="#7e7e81"/>
<rect x="262.50" y="80.5" width="3" height="45.7" fill="#e0523a" stroke="#741a0f" stroke-width="1"/>
<rect x="268.05" y="101.7" width="1.2" height="22.5" fill="#7e7e81"/>
<rect x="267.00" y="111.7" width="4" height="2.0" fill="#1f5a38"/>
<rect x="267.90" y="112.2" width="2.2" height="0.9" fill="#5f9f78"/>
<rect x="273.05" y="107.5" width="1.2" height="27.5" fill="#7e7e81"/>
<rect x="272.50" y="108.3" width="3" height="20.3" fill="#e0523a" stroke="#741a0f" stroke-width="1"/>
<rect x="278.05" y="128.0" width="1.2" height="24.8" fill="#7e7e81"/>
<rect x="277.00" y="132.2" width="4" height="2.5" fill="#1f5a38"/>
<rect x="277.90" y="132.7" width="2.2" height="1.4" fill="#5f9f78"/>
<rect x="282.05" y="123.0" width="1.2" height="20.3" fill="#7e7e81"/>
<rect x="281.00" y="127.8" width="4" height="1.4" fill="#741a0f"/>
<rect x="281.90" y="128.4" width="2.2" height="0.3" fill="#e0523a"/>
<rect x="287.05" y="123.0" width="1.2" height="19.0" fill="#7e7e81"/>
<rect x="286.50" y="123.8" width="3" height="17.3" fill="#e0523a" stroke="#741a0f" stroke-width="1"/>
<rect x="292.05" y="123.7" width="1.2" height="18.3" fill="#7e7e81"/>
<rect x="291.50" y="133.5" width="3" height="7.7" fill="#5f9f78" stroke="#1f5a38" stroke-width="1"/>
<rect x="297.05" y="129.2" width="1.2" height="12.2" fill="#7e7e81"/>
<rect x="296.50" y="132.7" width="3" height="7.7" fill="#5f9f78" stroke="#1f5a38" stroke-width="1"/>
<rect x="302.05" y="129.2" width="1.2" height="23.7" fill="#7e7e81"/>
<rect x="301.00" y="140.3" width="4" height="1.4" fill="#1f5a38"/>
<rect x="301.90" y="140.9" width="2.2" height="0.3" fill="#5f9f78"/>
<rect x="306.05" y="132.8" width="1.2" height="15.8" fill="#7e7e81"/>
<rect x="305.50" y="136.8" width="3" height="6.3" fill="#e0523a" stroke="#741a0f" stroke-width="1"/>
<rect x="311.05" y="127.0" width="1.2" height="38.0" fill="#7e7e81"/>
<rect x="310.50" y="146.7" width="3" height="17.3" fill="#e0523a" stroke="#741a0f" stroke-width="1"/>
<rect x="316.05" y="131.2" width="1.2" height="43.0" fill="#7e7e81"/>
<rect x="315.00" y="161.3" width="4" height="1.4" fill="#741a0f"/>
<rect x="315.90" y="161.9" width="2.2" height="0.3" fill="#e0523a"/>
<rect x="321.05" y="137.8" width="1.2" height="30.5" fill="#7e7e81"/>
<rect x="320.50" y="143.3" width="3" height="22.8" fill="#5f9f78" stroke="#1f5a38" stroke-width="1"/>
<rect x="325.05" y="142.8" width="1.2" height="34.7" fill="#7e7e81"/>
<rect x="324.50" y="145.8" width="3" height="7.3" fill="#5f9f78" stroke="#1f5a38" stroke-width="1"/>
<rect x="330.05" y="127.0" width="1.2" height="43.8" fill="#7e7e81"/>
<rect x="329.50" y="142.5" width="3" height="19.5" fill="#e0523a" stroke="#741a0f" stroke-width="1"/>
<rect x="335.05" y="157.2" width="1.2" height="35.3" fill="#7e7e81"/>
<rect x="334.50" y="162.2" width="3" height="17.8" fill="#e0523a" stroke="#741a0f" stroke-width="1"/>
<rect x="340.05" y="160.8" width="1.2" height="33.8" fill="#7e7e81"/>
<rect x="339.50" y="161.3" width="3" height="22.3" fill="#5f9f78" stroke="#1f5a38" stroke-width="1"/>
<rect x="345.05" y="151.3" width="1.2" height="20.3" fill="#7e7e81"/>
<rect x="344.50" y="155.0" width="3" height="16.2" fill="#5f9f78" stroke="#1f5a38" stroke-width="1"/>
<rect x="349.05" y="148.3" width="1.2" height="19.2" fill="#7e7e81"/>
<rect x="348.50" y="153.0" width="3" height="7.3" fill="#5f9f78" stroke="#1f5a38" stroke-width="1"/>
<rect x="354.05" y="154.2" width="1.2" height="15.8" fill="#7e7e81"/>
<rect x="353.50" y="157.2" width="3" height="10.7" fill="#e0523a" stroke="#741a0f" stroke-width="1"/>
<rect x="359.05" y="169.2" width="1.2" height="15.5" fill="#7e7e81"/>
<rect x="358.50" y="171.3" width="3" height="12.3" fill="#e0523a" stroke="#741a0f" stroke-width="1"/>
<rect x="364.05" y="184.2" width="1.2" height="19.7" fill="#7e7e81"/>
<rect x="363.50" y="188.5" width="3" height="9.7" fill="#e0523a" stroke="#741a0f" stroke-width="1"/>
<rect x="368.05" y="198.3" width="1.2" height="11.7" fill="#7e7e81"/>
<rect x="367.50" y="200.8" width="3" height="5.7" fill="#e0523a" stroke="#741a0f" stroke-width="1"/>
<rect x="373.05" y="209.2" width="1.2" height="7.8" fill="#7e7e81"/>
<rect x="372.00" y="211.7" width="4" height="1.4" fill="#1f5a38"/>
<rect x="372.90" y="212.2" width="2.2" height="0.3" fill="#5f9f78"/>
<rect x="378.05" y="182.2" width="1.2" height="28.7" fill="#7e7e81"/>
<rect x="377.50" y="185.0" width="3" height="22.8" fill="#5f9f78" stroke="#1f5a38" stroke-width="1"/>
<rect x="383.05" y="183.7" width="1.2" height="23.8" fill="#7e7e81"/>
<rect x="382.50" y="201.7" width="3" height="4.8" fill="#e0523a" stroke="#741a0f" stroke-width="1"/>
<rect x="387.05" y="197.0" width="1.2" height="22.5" fill="#7e7e81"/>
<rect x="386.50" y="200.8" width="3" height="6.2" fill="#e0523a" stroke="#741a0f" stroke-width="1"/>
<rect x="392.05" y="193.7" width="1.2" height="17.7" fill="#7e7e81"/>
<rect x="391.00" y="204.2" width="4" height="1.4" fill="#1f5a38"/>
<rect x="391.90" y="204.7" width="2.2" height="0.3" fill="#5f9f78"/>
<rect x="397.05" y="183.0" width="1.2" height="19.5" fill="#7e7e81"/>
<rect x="396.50" y="187.7" width="3" height="13.8" fill="#5f9f78" stroke="#1f5a38" stroke-width="1"/>
<rect x="402.05" y="186.7" width="1.2" height="13.3" fill="#7e7e81"/>
<rect x="401.00" y="187.2" width="4" height="2.5" fill="#741a0f"/>
<rect x="401.90" y="187.7" width="2.2" height="1.4" fill="#e0523a"/>
<rect x="407.05" y="185.0" width="1.2" height="23.7" fill="#7e7e81"/>
<rect x="406.00" y="197.5" width="4" height="2.8" fill="#741a0f"/>
<rect x="406.90" y="198.1" width="2.2" height="1.7" fill="#e0523a"/>
<rect x="411.05" y="197.5" width="1.2" height="14.2" fill="#7e7e81"/>
<rect x="410.00" y="203.3" width="4" height="2.8" fill="#741a0f"/>
<rect x="410.90" y="203.9" width="2.2" height="1.7" fill="#e0523a"/>
<rect x="416.05" y="193.7" width="1.2" height="33.3" fill="#7e7e81"/>
<rect x="415.50" y="203.8" width="3" height="22.3" fill="#e0523a" stroke="#741a0f" stroke-width="1"/>
<rect x="421.05" y="213.3" width="1.2" height="13.3" fill="#7e7e81"/>
<rect x="420.00" y="219.2" width="4" height="1.7" fill="#741a0f"/>
<rect x="420.90" y="219.7" width="2.2" height="0.6" fill="#e0523a"/>
<rect x="426.05" y="200.8" width="1.2" height="34.2" fill="#7e7e81"/>
<rect x="425.50" y="203.8" width="3" height="26.5" fill="#5f9f78" stroke="#1f5a38" stroke-width="1"/>
<rect x="430.05" y="190.0" width="1.2" height="15.3" fill="#7e7e81"/>
<rect x="429.00" y="197.0" width="4" height="1.7" fill="#741a0f"/>
<rect x="429.90" y="197.6" width="2.2" height="0.6" fill="#e0523a"/>
<rect x="435.05" y="193.7" width="1.2" height="14.3" fill="#7e7e81"/>
<rect x="434.50" y="196.7" width="3" height="10.3" fill="#5f9f78" stroke="#1f5a38" stroke-width="1"/>
<rect x="440.05" y="183.0" width="1.2" height="23.7" fill="#7e7e81"/>
<rect x="439.50" y="195.8" width="3" height="8.2" fill="#e0523a" stroke="#741a0f" stroke-width="1"/>
<rect x="445.05" y="179.5" width="1.2" height="17.2" fill="#7e7e81"/>
<rect x="444.50" y="190.5" width="3" height="5.3" fill="#5f9f78" stroke="#1f5a38" stroke-width="1"/>
<rect x="449.05" y="181.3" width="1.2" height="25.8" fill="#7e7e81"/>
<rect x="448.50" y="191.8" width="3" height="9.0" fill="#e0523a" stroke="#741a0f" stroke-width="1"/>
<rect x="454.05" y="204.2" width="1.2" height="9.2" fill="#7e7e81"/>
<rect x="453.50" y="208.8" width="3" height="3.5" fill="#e0523a" stroke="#741a0f" stroke-width="1"/>
<rect x="459.05" y="205.0" width="1.2" height="42.5" fill="#7e7e81"/>
<rect x="458.50" y="208.8" width="3" height="36.0" fill="#e0523a" stroke="#741a0f" stroke-width="1"/>
<rect x="464.05" y="219.2" width="1.2" height="37.5" fill="#7e7e81"/>
<rect x="463.50" y="247.7" width="3" height="4.7" fill="#e0523a" stroke="#741a0f" stroke-width="1"/>
<rect x="469.05" y="226.3" width="1.2" height="14.2" fill="#7e7e81"/>
<rect x="468.00" y="235.3" width="4" height="3.0" fill="#741a0f"/>
<rect x="468.90" y="235.9" width="2.2" height="1.9" fill="#e0523a"/>
<rect x="473.05" y="246.7" width="1.2" height="22.5" fill="#7e7e81"/>
<rect x="472.50" y="247.7" width="3" height="3.2" fill="#5f9f78" stroke="#1f5a38" stroke-width="1"/>
<rect x="478.05" y="228.0" width="1.2" height="21.2" fill="#7e7e81"/>
<rect x="477.50" y="238.8" width="3" height="9.3" fill="#5f9f78" stroke="#1f5a38" stroke-width="1"/>
<rect x="483.05" y="220.8" width="1.2" height="18.3" fill="#7e7e81"/>
<rect x="482.50" y="224.7" width="3" height="13.5" fill="#5f9f78" stroke="#1f5a38" stroke-width="1"/>
<rect x="488.05" y="206.7" width="1.2" height="18.3" fill="#7e7e81"/>
<rect x="487.50" y="209.7" width="3" height="7.3" fill="#5f9f78" stroke="#1f5a38" stroke-width="1"/>
<rect x="492.05" y="196.7" width="1.2" height="17.5" fill="#7e7e81"/>
<rect x="491.50" y="198.8" width="3" height="7.3" fill="#5f9f78" stroke="#1f5a38" stroke-width="1"/>
<rect x="497.05" y="186.3" width="1.2" height="20.3" fill="#7e7e81"/>
<rect x="496.50" y="191.0" width="3" height="14.7" fill="#5f9f78" stroke="#1f5a38" stroke-width="1"/>
<rect x="502.05" y="185.0" width="1.2" height="17.0" fill="#7e7e81"/>
<rect x="501.00" y="188.3" width="4" height="1.4" fill="#741a0f"/>
<rect x="501.90" y="188.9" width="2.2" height="0.3" fill="#e0523a"/>
<rect x="507.05" y="173.3" width="1.2" height="19.2" fill="#7e7e81"/>
<rect x="506.50" y="175.5" width="3" height="13.5" fill="#5f9f78" stroke="#1f5a38" stroke-width="1"/>
<rect x="512.05" y="164.2" width="1.2" height="24.2" fill="#7e7e81"/>
<rect x="511.50" y="171.3" width="3" height="14.5" fill="#e0523a" stroke="#741a0f" stroke-width="1"/>
<rect x="516.05" y="178.7" width="1.2" height="16.7" fill="#7e7e81"/>
<rect x="515.50" y="185.2" width="3" height="7.3" fill="#e0523a" stroke="#741a0f" stroke-width="1"/>
<rect x="521.05" y="186.3" width="1.2" height="21.7" fill="#7e7e81"/>
<rect x="520.50" y="195.0" width="3" height="3.2" fill="#e0523a" stroke="#741a0f" stroke-width="1"/>
<rect x="526.05" y="185.3" width="1.2" height="22.7" fill="#7e7e81"/>
<rect x="525.50" y="191.0" width="3" height="7.2" fill="#5f9f78" stroke="#1f5a38" stroke-width="1"/>
<rect x="531.05" y="169.7" width="1.2" height="25.3" fill="#7e7e81"/>
<rect x="530.50" y="171.8" width="3" height="22.2" fill="#5f9f78" stroke="#1f5a38" stroke-width="1"/>
<rect x="535.05" y="143.3" width="1.2" height="25.3" fill="#7e7e81"/>
<rect x="534.50" y="153.8" width="3" height="14.0" fill="#5f9f78" stroke="#1f5a38" stroke-width="1"/>
<rect x="540.05" y="169.2" width="1.2" height="67.2" fill="#7e7e81"/>
<rect x="539.50" y="174.7" width="3" height="17.3" fill="#e0523a" stroke="#741a0f" stroke-width="1"/>
<rect x="545.05" y="170.0" width="1.2" height="24.2" fill="#7e7e81"/>
<rect x="544.50" y="183.0" width="3" height="10.2" fill="#5f9f78" stroke="#1f5a38" stroke-width="1"/>
<rect x="550.05" y="189.5" width="1.2" height="24.2" fill="#7e7e81"/>
<rect x="549.00" y="200.8" width="4" height="1.4" fill="#1f5a38"/>
<rect x="549.90" y="201.4" width="2.2" height="0.3" fill="#5f9f78"/>
<rect x="554.05" y="185.3" width="1.2" height="37.5" fill="#7e7e81"/>
<rect x="553.50" y="200.0" width="3" height="22.0" fill="#e0523a" stroke="#741a0f" stroke-width="1"/>
<rect x="559.05" y="206.7" width="1.2" height="28.8" fill="#7e7e81"/>
<rect x="558.00" y="224.2" width="4" height="2.5" fill="#741a0f"/>
<rect x="558.90" y="224.7" width="2.2" height="1.4" fill="#e0523a"/>
<rect x="564.05" y="213.3" width="1.2" height="22.2" fill="#7e7e81"/>
<rect x="563.00" y="232.2" width="4" height="2.0" fill="#1f5a38"/>
<rect x="563.90" y="232.7" width="2.2" height="0.9" fill="#5f9f78"/>
<rect x="569.05" y="222.5" width="1.2" height="18.3" fill="#7e7e81"/>
<rect x="568.00" y="227.0" width="4" height="1.4" fill="#1f5a38"/>
<rect x="568.90" y="227.6" width="2.2" height="0.3" fill="#5f9f78"/>
<rect x="574.05" y="211.7" width="1.2" height="24.2" fill="#7e7e81"/>
<rect x="573.50" y="228.8" width="3" height="6.2" fill="#e0523a" stroke="#741a0f" stroke-width="1"/>
<rect x="578.05" y="228.0" width="1.2" height="16.2" fill="#7e7e81"/>
<rect x="577.50" y="235.8" width="3" height="7.3" fill="#e0523a" stroke="#741a0f" stroke-width="1"/>
<rect x="583.05" y="224.2" width="1.2" height="30.8" fill="#7e7e81"/>
<rect x="582.50" y="238.5" width="3" height="15.5" fill="#e0523a" stroke="#741a0f" stroke-width="1"/>
<rect x="588.05" y="236.3" width="1.2" height="20.0" fill="#7e7e81"/>
<rect x="587.50" y="240.0" width="3" height="10.8" fill="#5f9f78" stroke="#1f5a38" stroke-width="1"/>
<rect x="593.05" y="229.7" width="1.2" height="15.0" fill="#7e7e81"/>
<rect x="592.50" y="238.5" width="3" height="3.5" fill="#e0523a" stroke="#741a0f" stroke-width="1"/>
<rect x="597.05" y="238.0" width="1.2" height="15.0" fill="#7e7e81"/>
<rect x="596.00" y="246.2" width="4" height="2.7" fill="#1f5a38"/>
<rect x="596.90" y="246.7" width="2.2" height="1.6" fill="#5f9f78"/>
<rect x="602.05" y="226.3" width="1.2" height="20.3" fill="#7e7e81"/>
<rect x="601.50" y="232.7" width="3" height="10.5" fill="#5f9f78" stroke="#1f5a38" stroke-width="1"/>
<rect x="607.05" y="215.8" width="1.2" height="13.7" fill="#7e7e81"/>
<rect x="606.50" y="219.7" width="3" height="9.0" fill="#5f9f78" stroke="#1f5a38" stroke-width="1"/>
<rect x="612.05" y="204.2" width="1.2" height="15.8" fill="#7e7e81"/>
<rect x="611.50" y="207.2" width="3" height="12.0" fill="#e0523a" stroke="#741a0f" stroke-width="1"/>
<rect x="616.05" y="221.2" width="1.2" height="15.8" fill="#7e7e81"/>
<rect x="615.50" y="222.2" width="3" height="13.7" fill="#e0523a" stroke="#741a0f" stroke-width="1"/>
<rect x="621.05" y="217.5" width="1.2" height="25.8" fill="#7e7e81"/>
<rect x="620.50" y="220.5" width="3" height="14.5" fill="#5f9f78" stroke="#1f5a38" stroke-width="1"/>
<rect x="626.05" y="216.7" width="1.2" height="22.8" fill="#7e7e81"/>
<rect x="625.50" y="227.7" width="3" height="9.0" fill="#e0523a" stroke="#741a0f" stroke-width="1"/>
<rect x="631.05" y="229.2" width="1.2" height="17.5" fill="#7e7e81"/>
<rect x="630.00" y="239.5" width="4" height="3.0" fill="#741a0f"/>
<rect x="630.90" y="240.1" width="2.2" height="1.9" fill="#e0523a"/>
<rect x="636.05" y="220.0" width="1.2" height="21.7" fill="#7e7e81"/>
<rect x="635.50" y="226.8" width="3" height="9.3" fill="#5f9f78" stroke="#1f5a38" stroke-width="1"/>
<rect x="640.05" y="229.2" width="1.2" height="12.2" fill="#7e7e81"/>
<rect x="639.50" y="232.5" width="3" height="5.0" fill="#e0523a" stroke="#741a0f" stroke-width="1"/>
<rect x="645.05" y="230.8" width="1.2" height="40.0" fill="#7e7e81"/>
<rect x="644.50" y="242.5" width="3" height="15.7" fill="#e0523a" stroke="#741a0f" stroke-width="1"/>
<rect x="650.05" y="253.0" width="1.2" height="13.7" fill="#7e7e81"/>
<rect x="649.50" y="253.8" width="3" height="4.3" fill="#e0523a" stroke="#741a0f" stroke-width="1"/>
<rect x="655.05" y="235.3" width="1.2" height="25.5" fill="#7e7e81"/>
<rect x="654.50" y="238.8" width="3" height="21.2" fill="#5f9f78" stroke="#1f5a38" stroke-width="1"/>
<rect x="659.05" y="246.7" width="1.2" height="25.8" fill="#7e7e81"/>
<rect x="658.50" y="249.7" width="3" height="16.5" fill="#e0523a" stroke="#741a0f" stroke-width="1"/>
<rect x="664.05" y="260.0" width="1.2" height="16.7" fill="#7e7e81"/>
<rect x="663.00" y="268.0" width="4" height="1.4" fill="#741a0f"/>
<rect x="663.90" y="268.6" width="2.2" height="0.3" fill="#e0523a"/>
<rect x="669.05" y="255.8" width="1.2" height="18.8" fill="#7e7e81"/>
<rect x="668.50" y="263.5" width="3" height="10.2" fill="#5f9f78" stroke="#1f5a38" stroke-width="1"/>
<rect x="674.05" y="254.2" width="1.2" height="34.2" fill="#7e7e81"/>
<rect x="673.50" y="260.5" width="3" height="12.7" fill="#e0523a" stroke="#741a0f" stroke-width="1"/>
<rect x="679.05" y="265.3" width="1.2" height="23.8" fill="#7e7e81"/>
<rect x="678.50" y="272.7" width="3" height="11.0" fill="#e0523a" stroke="#741a0f" stroke-width="1"/>
<rect x="683.05" y="273.0" width="1.2" height="41.5" fill="#7e7e81"/>
<rect x="682.50" y="281.8" width="3" height="14.8" fill="#e0523a" stroke="#741a0f" stroke-width="1"/>
<rect x="688.05" y="283.7" width="1.2" height="18.5" fill="#7e7e81"/>
<rect x="687.50" y="290.2" width="3" height="3.2" fill="#5f9f78" stroke="#1f5a38" stroke-width="1"/>
<rect x="693.05" y="274.7" width="1.2" height="25.0" fill="#7e7e81"/>
<rect x="692.50" y="279.3" width="3" height="11.5" fill="#5f9f78" stroke="#1f5a38" stroke-width="1"/>
<rect x="698.05" y="255.8" width="1.2" height="15.8" fill="#7e7e81"/>
<rect x="697.00" y="265.8" width="4" height="1.4" fill="#741a0f"/>
<rect x="697.90" y="266.4" width="2.2" height="0.3" fill="#e0523a"/>
<rect x="702.05" y="268.0" width="1.2" height="26.7" fill="#7e7e81"/>
<rect x="701.50" y="271.0" width="3" height="19.8" fill="#e0523a" stroke="#741a0f" stroke-width="1"/>
<rect x="707.05" y="291.3" width="1.2" height="14.5" fill="#7e7e81"/>
<rect x="706.50" y="300.5" width="3" height="4.5" fill="#e0523a" stroke="#741a0f" stroke-width="1"/>
<rect x="712.05" y="294.7" width="1.2" height="15.8" fill="#7e7e81"/>
<rect x="711.50" y="296.0" width="3" height="3.2" fill="#5f9f78" stroke="#1f5a38" stroke-width="1"/>
<rect x="717.05" y="284.2" width="1.2" height="12.5" fill="#7e7e81"/>
<rect x="716.50" y="290.5" width="3" height="5.2" fill="#e0523a" stroke="#741a0f" stroke-width="1"/>
<rect x="721.05" y="293.0" width="1.2" height="18.2" fill="#7e7e81"/>
<rect x="720.00" y="294.2" width="4" height="2.2" fill="#1f5a38"/>
<rect x="720.90" y="294.7" width="2.2" height="1.1" fill="#5f9f78"/>
<rect x="726.05" y="285.8" width="1.2" height="15.0" fill="#7e7e81"/>
<rect x="725.00" y="297.5" width="4" height="2.8" fill="#1f5a38"/>
<rect x="725.90" y="298.1" width="2.2" height="1.7" fill="#5f9f78"/>
<rect x="731.05" y="280.0" width="1.2" height="12.5" fill="#7e7e81"/>
<rect x="730.50" y="287.5" width="3" height="2.5" fill="#5f9f78" stroke="#1f5a38" stroke-width="1"/>
<rect x="736.05" y="270.0" width="1.2" height="13.3" fill="#7e7e81"/>
<rect x="735.50" y="272.7" width="3" height="9.8" fill="#5f9f78" stroke="#1f5a38" stroke-width="1"/>
<rect x="741.05" y="274.7" width="1.2" height="13.7" fill="#7e7e81"/>
<rect x="740.00" y="279.2" width="4" height="1.4" fill="#741a0f"/>
<rect x="740.90" y="279.7" width="2.2" height="0.3" fill="#e0523a"/>
<rect x="745.05" y="268.7" width="1.2" height="14.7" fill="#7e7e81"/>
<rect x="744.50" y="274.7" width="3" height="4.5" fill="#5f9f78" stroke="#1f5a38" stroke-width="1"/>
<rect x="750.05" y="245.1" width="1.2" height="27.4" fill="#7e7e81"/>
<rect x="749.50" y="248.9" width="3" height="19.7" fill="#5f9f78" stroke="#1f5a38" stroke-width="1"/>
<rect x="755.05" y="241.7" width="1.2" height="15.4" fill="#7e7e81"/>
<rect x="754.50" y="242.6" width="3" height="13.6" fill="#5f9f78" stroke="#1f5a38" stroke-width="1"/>
<rect x="760.05" y="224.6" width="1.2" height="17.1" fill="#7e7e81"/>
<rect x="759.50" y="234.6" width="3" height="6.2" fill="#5f9f78" stroke="#1f5a38" stroke-width="1"/>
<rect x="764.05" y="225.0" width="1.2" height="18.0" fill="#7e7e81"/>
<rect x="763.50" y="228.6" width="3" height="13.3" fill="#5f9f78" stroke="#1f5a38" stroke-width="1"/>
<rect x="769.05" y="228.4" width="1.2" height="22.1" fill="#7e7e81"/>
<rect x="768.50" y="232.6" width="3" height="12.4" fill="#e0523a" stroke="#741a0f" stroke-width="1"/>
<rect x="774.05" y="237.7" width="1.2" height="14.3" fill="#7e7e81"/>
<rect x="773.50" y="246.9" width="3" height="3.9" fill="#5f9f78" stroke="#1f5a38" stroke-width="1"/>
<rect x="779.05" y="253.0" width="1.2" height="9.8" fill="#7e7e81"/>
<rect x="778.50" y="254.2" width="3" height="7.8" fill="#e0523a" stroke="#741a0f" stroke-width="1"/>
<rect x="784.05" y="267.5" width="1.2" height="25.5" fill="#7e7e81"/>
<rect x="783.50" y="278.0" width="3" height="11.8" fill="#e0523a" stroke="#741a0f" stroke-width="1"/>
<rect x="788.05" y="286.3" width="1.2" height="27.0" fill="#7e7e81"/>
<rect x="787.50" y="290.2" width="3" height="17.2" fill="#e0523a" stroke="#741a0f" stroke-width="1"/>
<rect x="793.05" y="288.0" width="1.2" height="19.0" fill="#7e7e81"/>
<rect x="792.00" y="296.7" width="4" height="1.4" fill="#1f5a38"/>
<rect x="792.90" y="297.2" width="2.2" height="0.3" fill="#5f9f78"/>
<rect x="798.05" y="305.0" width="1.2" height="15.0" fill="#7e7e81"/>
<rect x="797.50" y="305.8" width="3" height="10.3" fill="#e0523a" stroke="#741a0f" stroke-width="1"/>
<rect x="803.05" y="302.5" width="1.2" height="14.2" fill="#7e7e81"/>
<rect x="802.50" y="304.2" width="3" height="10.3" fill="#e0523a" stroke="#741a0f" stroke-width="1"/>
<rect x="807.05" y="304.2" width="1.2" height="10.8" fill="#7e7e81"/>
<rect x="806.00" y="306.2" width="4" height="1.5" fill="#741a0f"/>
<rect x="806.90" y="306.7" width="2.2" height="0.4" fill="#e0523a"/>
<rect x="812.05" y="298.0" width="1.2" height="18.3" fill="#7e7e81"/>
<rect x="811.50" y="311.7" width="3" height="3.7" fill="#5f9f78" stroke="#1f5a38" stroke-width="1"/>
<rect x="817.05" y="302.5" width="1.2" height="10.5" fill="#7e7e81"/>
<rect x="816.50" y="304.7" width="3" height="7.3" fill="#5f9f78" stroke="#1f5a38" stroke-width="1"/>
<rect x="822.05" y="273.2" width="1.2" height="24.5" fill="#7e7e81"/>
<rect x="821.50" y="277.9" width="3" height="18.9" fill="#5f9f78" stroke="#1f5a38" stroke-width="1"/>
<rect x="826.05" y="264.1" width="1.2" height="13.7" fill="#7e7e81"/>
<rect x="825.00" y="270.6" width="4" height="1.7" fill="#741a0f"/>
<rect x="825.90" y="271.2" width="2.2" height="0.6" fill="#e0523a"/>
<rect x="831.05" y="264.8" width="1.2" height="25.4" fill="#7e7e81"/>
<rect x="830.50" y="267.2" width="3" height="22.2" fill="#e0523a" stroke="#741a0f" stroke-width="1"/>
<rect x="836.05" y="286.0" width="1.2" height="15.9" fill="#7e7e81"/>
<rect x="835.50" y="286.8" width="3" height="9.2" fill="#e0523a" stroke="#741a0f" stroke-width="1"/>
<rect x="1" y="288.5" width="1129" height="1.75" fill="#2962ff"/>
<line x1="1" x2="1130" y1="296.5" y2="296.5" stroke="#e0523a" stroke-opacity="0.8" stroke-width="1" stroke-dasharray="1,1.6"/>
<rect x="1130.7" y="1" width="62.3" height="573" fill="#fff"/>
<rect x="1129.3" y="0" width="1.6" height="574" fill="#8b8b8d"/>
<rect x="0" y="546" width="1193" height="1.9" fill="#9b9b9b"/>
<rect x="0" y="0" width="1200" height="1" fill="#dfe2ec"/>
<rect x="0" y="0" width="0.8" height="576" fill="#dfe2ec"/>
<rect x="0" y="574" width="1200" height="2" fill="#e9ebf3"/>
<rect x="1193" y="1" width="5" height="575" fill="#e0e3eb"/>
<rect x="1198" y="1" width="2" height="573" fill="#fff"/>
<rect x="1198.3" y="57" width="1.7" height="12.7" fill="#c9cbd1"/>
<rect x="1198.3" y="77" width="1.7" height="1" fill="#e4e5ea"/>
<rect x="1198.3" y="115" width="1.7" height="1" fill="#e4e5ea"/>
<rect x="1198.3" y="124" width="1.7" height="12.4" fill="#f2444f"/>
<rect x="1198.3" y="145" width="1.7" height="31" fill="#b5d6f5"/>
<rect x="1198.3" y="155" width="1.7" height="12" fill="#f2444f"/>
<rect x="1198.3" y="185.6" width="1.7" height="11.7" fill="#f2444f"/>
<rect x="1198.3" y="247.5" width="1.7" height="12.5" fill="#f2444f"/>
<rect x="1198.3" y="338.5" width="1.7" height="12" fill="#f2444f"/>
<rect x="1198.3" y="452.5" width="1.7" height="1.5" fill="#d5d7dd"/>
<rect x="1198.3" y="498" width="1.7" height="1.5" fill="#d5d7dd"/>
<text x="1140" y="65.1" font-size="12" fill="#50535e" textLength="33.5" lengthAdjust="spacingAndGlyphs">210.00</text>
<text x="1140" y="112.2" font-size="12" fill="#50535e" textLength="33.5" lengthAdjust="spacingAndGlyphs">200.00</text>
<text x="1140" y="159.3" font-size="12" fill="#50535e" textLength="33.5" lengthAdjust="spacingAndGlyphs">190.00</text>
<text x="1140" y="206.4" font-size="12" fill="#50535e" textLength="33.5" lengthAdjust="spacingAndGlyphs">180.00</text>
<text x="1140" y="253.5" font-size="12" fill="#50535e" textLength="33.5" lengthAdjust="spacingAndGlyphs">170.00</text>
<text x="1140" y="367.9" font-size="12" fill="#50535e" textLength="27" lengthAdjust="spacingAndGlyphs">80.00</text>
<text x="1140" y="442" font-size="12" fill="#50535e" textLength="21" lengthAdjust="spacingAndGlyphs">0.00</text>
<text x="1140" y="525" font-size="12" fill="#50535e" textLength="27.5" lengthAdjust="spacingAndGlyphs">−4.00</text>
<text x="1140.7" y="17.8" font-size="11" fill="#50535e" textLength="17.8" lengthAdjust="spacingAndGlyphs">USD</text>
<polyline points="1162.0,11.6 1164.9,14.2 1167.8,11.6" fill="none" stroke="#50535e" stroke-width="1.3"/>
<path d="M1130,256.5h47a2,2 0 0 1 2,2v11.6a2,2 0 0 1 -2,2h-47z" fill="#2962ff"/>
<text x="1140" y="268.6" font-size="12" font-weight="bold" fill="#fff" textLength="33.5" lengthAdjust="spacingAndGlyphs">163.37</text>
<path d="M1130,271.9h47a2,2 0 0 1 2,2v11.6a2,2 0 0 1 -2,2h-47z" fill="#2962ff"/>
<text x="1140" y="284.0" font-size="12" font-weight="bold" fill="#fff" textLength="33.5" lengthAdjust="spacingAndGlyphs">161.33</text>
<rect x="1130" y="270" width="49" height="4" fill="#2962ff"/>
<rect x="1098.5" y="288.6" width="92" height="15.4" rx="2" fill="#d9543f"/>
<text x="1104" y="300.6" font-size="12" font-weight="bold" fill="#fff" textLength="20" lengthAdjust="spacingAndGlyphs">UNF</text>
<text x="1140" y="300.6" font-size="12" fill="#fbe3de" textLength="44" lengthAdjust="spacingAndGlyphs">06:07:31</text>
<path d="M1130,386.8h42a2,2 0 0 1 2,2v11.4a2,2 0 0 1 -2,2h-42z" fill="#ff6d00"/>
<text x="1140" y="398.8" font-size="12" font-weight="bold" fill="#fff" textLength="27" lengthAdjust="spacingAndGlyphs">38.45</text>
<path d="M1130,402.4h42a2,2 0 0 1 2,2v11.4a2,2 0 0 1 -2,2h-42z" fill="#2962ff"/>
<text x="1140" y="414.4" font-size="12" font-weight="bold" fill="#fff" textLength="27" lengthAdjust="spacingAndGlyphs">29.87</text>
<path d="M1130,467.2h36a2,2 0 0 1 2,2v10.3a2,2 0 0 1 -2,2h-36z" fill="#b2dfdb"/>
<text x="1140" y="478.6" font-size="12" font-weight="normal" fill="#2a2e39" textLength="21" lengthAdjust="spacingAndGlyphs">0.16</text>
<path d="M1130,486.5h42.5a2,2 0 0 1 2,2v11.4a2,2 0 0 1 -2,2h-42.5z" fill="#2962ff"/>
<text x="1139.5" y="498.5" font-size="12" font-weight="bold" fill="#fff" textLength="28" lengthAdjust="spacingAndGlyphs">−1.56</text>
<path d="M1130,501.7h42.5a2,2 0 0 1 2,2v11.3a2,2 0 0 1 -2,2h-42.5z" fill="#ff6d00"/>
<text x="1139.5" y="513.6" font-size="12" font-weight="bold" fill="#fff" textLength="28" lengthAdjust="spacingAndGlyphs">−1.72</text>
<line x1="980" y1="106" x2="898" y2="236" stroke="#000" stroke-width="2"/>
<polygon points="887.3,253.7 890,225.3 911.7,238.7" fill="#000"/>
<rect x="831.5" y="77.9" width="314.5" height="28.6" rx="4" fill="#fff" stroke="#000" stroke-width="2"/>
<text x="838" y="98.8" font-size="20.6" fill="#000" textLength="302" lengthAdjust="spacingAndGlyphs">This might be a bottom, maybe...</text>
<text x="49.5" y="565.2" font-size="12" text-anchor="middle" fill="#50535e" font-weight="normal">Nov</text>
<text x="149.5" y="565.2" font-size="12" text-anchor="middle" fill="#50535e" font-weight="normal">Dec</text>
<text x="254.6" y="565.2" font-size="12" text-anchor="middle" fill="#2a2e39" font-weight="bold">2022</text>
<text x="350.0" y="565.2" font-size="12" text-anchor="middle" fill="#50535e" font-weight="normal">Feb</text>
<text x="440.8" y="565.2" font-size="12" text-anchor="middle" fill="#50535e" font-weight="normal">Mar</text>
<text x="550.3" y="565.2" font-size="12" text-anchor="middle" fill="#50535e" font-weight="normal">Apr</text>
<text x="645.8" y="565.2" font-size="12" text-anchor="middle" fill="#50535e" font-weight="normal">May</text>
<text x="746.8" y="565.2" font-size="12" text-anchor="middle" fill="#50535e" font-weight="normal">Jun</text>
<text x="847.0" y="565.2" font-size="12" text-anchor="middle" fill="#50535e" font-weight="normal">Jul</text>
<text x="942.0" y="565.2" font-size="12" text-anchor="middle" fill="#50535e" font-weight="normal">Aug</text>
<text x="1051.0" y="565.2" font-size="12" text-anchor="middle" fill="#50535e" font-weight="normal">Sep</text>
<path d="M1166.30,560.50L1168.60,560.50M1164.86,563.96L1166.49,565.59M1161.40,565.40L1161.40,567.70M1157.94,563.96L1156.31,565.59M1156.50,560.50L1154.20,560.50M1157.94,557.04L1156.31,555.41M1161.40,555.60L1161.40,553.30M1164.86,557.04L1166.49,555.41" stroke="#2a2e39" stroke-width="1.7" fill="none"/>
<circle cx="1161.4" cy="560.5" r="4.7" fill="#fff" stroke="#2a2e39" stroke-width="1.3"/>
<rect x="5" y="7" width="140" height="25" fill="#fff" fill-opacity="0.62"/>
<rect x="5" y="32" width="158" height="26" fill="#fff" fill-opacity="0.62"/>
<rect x="5" y="58" width="82" height="29" fill="#fff" fill-opacity="0.62"/>
<rect x="5" y="346" width="123" height="21" fill="#fff" fill-opacity="0.62"/>
<rect x="5" y="452" width="152" height="20" fill="#fff" fill-opacity="0.62"/>
<text x="11" y="23.4" font-size="16.5" fill="#4c4c4f" textLength="130" lengthAdjust="spacingAndGlyphs">UNF · TradingView</text>
<path d="M165.5,8.3h12.5v17.4h-12.5a8.7,8.7 0 0 1 0,-17.4z" fill="#d6eeea"/>
<path d="M178,8.3h10.8a8.7,8.7 0 0 1 0,17.4h-10.8z" fill="#fbdce5"/>
<circle cx="167.6" cy="17.2" r="3.8" fill="#089981"/>
<path d="M182.2,15.6q1.9,-1.7 3.8,0t3.8,0M182.2,19.6q1.9,-1.7 3.8,0t3.8,0" stroke="#d81b60" stroke-width="1.5" fill="none"/>
<text x="214.7" y="23.4" font-size="12" textLength="48.2" lengthAdjust="spacingAndGlyphs"><tspan fill="#5d606b">O</tspan><tspan fill="#6b2a2a">162.00</tspan></text>
<text x="270.3" y="23.4" font-size="12" textLength="48.7" lengthAdjust="spacingAndGlyphs"><tspan fill="#5d606b">H</tspan><tspan fill="#6b2a2a">162.00</tspan></text>
<text x="326" y="23.4" font-size="12" textLength="46" lengthAdjust="spacingAndGlyphs"><tspan fill="#5d606b">L</tspan><tspan fill="#6b2a2a">158.52</tspan></text>
<text x="380" y="23.4" font-size="12" textLength="47" lengthAdjust="spacingAndGlyphs"><tspan fill="#5d606b">C</tspan><tspan fill="#6b2a2a">160.00</tspan></text>
<text x="435" y="23.4" font-size="12" fill="#6b2a2a" textLength="30.7" lengthAdjust="spacingAndGlyphs">−1.41</text>
<text x="472" y="23.4" font-size="12" fill="#6b2a2a" textLength="49.5" lengthAdjust="spacingAndGlyphs">(−0.87%)</text>
<rect x="9.7" y="34.3" width="55.2" height="23.4" rx="4" fill="#fff" stroke="#f7525f" stroke-width="1"/>
<text x="18.5" y="50.7" font-size="13" fill="#f7525f" textLength="37" lengthAdjust="spacingAndGlyphs">158.51</text>
<text x="73.8" y="50.7" font-size="13" fill="#5d606b" textLength="21.5" lengthAdjust="spacingAndGlyphs">3.54</text>
<rect x="103.8" y="34.3" width="55.8" height="23.4" rx="4" fill="#fff" stroke="#2962ff" stroke-width="1"/>
<text x="113" y="50.7" font-size="13" fill="#2962ff" textLength="38" lengthAdjust="spacingAndGlyphs">162.05</text>
<text x="11" y="79.7" font-size="12.5" fill="#5d606b" textLength="23" lengthAdjust="spacingAndGlyphs">EMA</text>
<text x="43.3" y="79.7" font-size="12.5" fill="#2962ff" textLength="39" lengthAdjust="spacingAndGlyphs">163.37</text>
<text x="10.3" y="361" font-size="13" fill="#5d606b" textLength="31.7" lengthAdjust="spacingAndGlyphs">Stoch</text>
<text x="52" y="361" font-size="13" fill="#2962ff" textLength="30.8" lengthAdjust="spacingAndGlyphs">29.87</text>
<text x="90.8" y="361" font-size="13" fill="#ff6d00" textLength="31.7" lengthAdjust="spacingAndGlyphs">38.45</text>
<text x="10.3" y="466.3" font-size="13" fill="#5d606b" textLength="32.2" lengthAdjust="spacingAndGlyphs">MACD</text>
<text x="52" y="466.3" font-size="13" fill="#a6d9d4" textLength="25.5" lengthAdjust="spacingAndGlyphs">0.16</text>
<text x="85" y="466.3" font-size="13" fill="#2962ff" textLength="30.8" lengthAdjust="spacingAndGlyphs">−1.56</text>
<text x="123.7" y="466.3" font-size="13" fill="#ff6d00" textLength="31.3" lengthAdjust="spacingAndGlyphs">−1.72</text>
<circle cx="25" cy="523.8" r="16.4" fill="#fff" stroke="#e4e4e4" stroke-width="1"/>
<path d="M14.2,519h8.7v10.8h-3.6v-6.9h-5.1z" fill="#131722"/>
<circle cx="26.7" cy="520.8" r="1.75" fill="#131722"/>
<path d="M31,519h5l-3.9,10.8h-5.6z" fill="#131722"/>
</svg></body></html>
